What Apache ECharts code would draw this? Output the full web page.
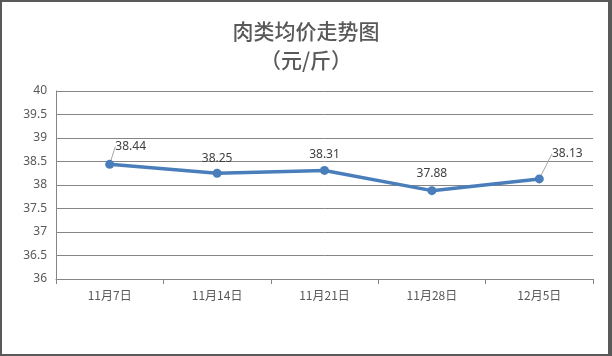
<!DOCTYPE html>
<html><head><meta charset="utf-8">
<script src="https://cdn.jsdelivr.net/npm/echarts@6/dist/echarts.min.js"></script>
<style>html,body{margin:0;padding:0;background:#fff}#c{width:612px;height:356px}</style>
</head><body><div id="c"></div>
<script>
var categories = ['11月7日','11月14日','11月21日','11月28日','12月5日'];
var prices = [38.44, 38.25, 38.31, 37.88, 38.13];
var yMin = 36, yMax = 40, yStep = 0.5;
var titleText = '肉类均价走势图\n（元/斤）';

var chart = echarts.init(document.getElementById('c'), null, {renderer:'canvas'});
var labelShift = [[21,-18],[0,-15],[0,-16],[0,-17],[28,-25]];
var withLeader = [true,false,false,false,true];
var seriesData = prices.map(function(v,i){
  return {value:v, labelLine:{show:withLeader[i]}};
});
chart.setOption({
  animation:false,
  backgroundColor:'#fff',
  graphic:[
    {type:'rect', z:-10, silent:true, shape:{x:0,y:0,width:612,height:356}, style:{fill:'#595959'}},
    {type:'rect', z:-9, silent:true, shape:{x:2,y:2,width:606,height:352}, style:{fill:'#ffffff'}}
  ],
  title:{
    text:titleText, left:'center', top:12,
    textStyle:{fontFamily:'Noto Sans CJK SC', fontSize:21, fontWeight:500, color:'#595959', lineHeight:29}
  },
  grid:{left:56, right:19, top:91, bottom:77, containLabel:false},
  xAxis:{
    type:'category', data:categories, boundaryGap:true,
    axisLine:{show:true, lineStyle:{color:'#868686', width:1}},
    axisTick:{show:true, length:5, alignWithLabel:false, lineStyle:{color:'#868686'}},
    axisLabel:{color:'#595959', fontSize:12, margin:10, fontFamily:'Noto Sans CJK SC'}
  },
  yAxis:{
    type:'value', min:yMin, max:yMax, interval:yStep,
    axisLine:{show:true, lineStyle:{color:'#868686', width:1}},
    axisTick:{show:false},
    splitLine:{show:true, lineStyle:{color:'#868686', width:1}},
    axisLabel:{color:'#595959', fontSize:12, margin:9, fontFamily:'Noto Sans'}
  },
  series:[{
    type:'line', data:seriesData,
    lineStyle:{color:'#4A7EBB', width:3.5},
    itemStyle:{color:'#4A7EBB'},
    symbol:'circle', symbolSize:9,
    label:{show:true, position:'inside', color:'#404040', fontSize:12, fontFamily:'Noto Sans',
      formatter:function(p){return p.value.toFixed(2);}},
    labelLine:{show:true, lineStyle:{color:'#A6A6A6', width:1}},
    labelLayout:function(p){
      var s = labelShift[p.dataIndex];
      return {dx:s[0], dy:s[1]};
    }
  }]
});
</script></body></html>
